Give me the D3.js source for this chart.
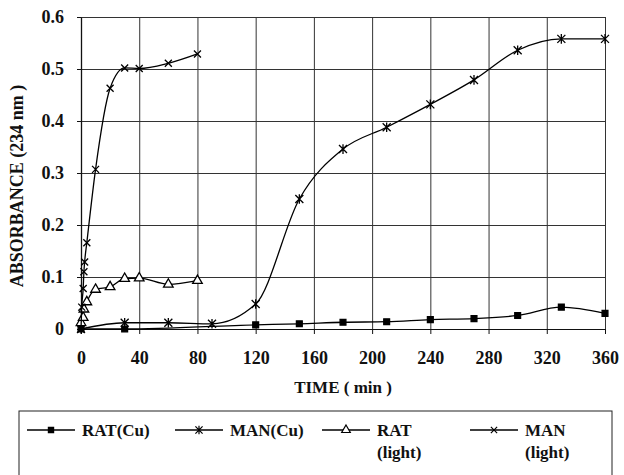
<html>
<head>
<title>Absorbance</title>
<script src="https://d3js.org/d3.v7.min.js"></script>
<style>
  body { margin: 0; background: #fff; }
</style>
</head>
<body>
<svg id="chart" width="624" height="475" font-family="Liberation Serif"></svg>
<script>
// x ticks and y ticks
var xTicks = [0, 40, 80, 120, 160, 200, 240, 280, 320, 360];
var yTicks = [0, 0.1, 0.2, 0.3, 0.4, 0.5, 0.6];
var yTickLabels = ["0", "0.1", "0.2", "0.3", "0.4", "0.5", "0.6"];

// RAT(Cu)
var ratCuTime = [0, 30, 120, 150, 180, 210, 240, 270, 300, 330, 360];
var ratCuAbs  = [0, 0, 0.008, 0.01, 0.013, 0.014, 0.018, 0.02, 0.026, 0.042, 0.03];
// MAN(Cu)
var manCuTime = [0, 30, 60, 90, 120, 150, 180, 210, 240, 270, 300, 330, 360];
var manCuAbs  = [0, 0.012, 0.012, 0.01, 0.048, 0.25, 0.346, 0.388, 0.432, 0.479, 0.536, 0.558, 0.558];
// RAT (light)
var ratLightTime = [0, 1.5, 2, 4, 10, 20, 30, 40, 60, 80];
var ratLightAbs  = [0.012, 0.022, 0.038, 0.052, 0.076, 0.081, 0.097, 0.098, 0.086, 0.093];
// MAN (light)
var manLightTime = [0, 0.5, 1.5, 2, 2.5, 4, 10, 20, 30, 40, 60, 80];
var manLightAbs  = [0, 0.042, 0.078, 0.11, 0.129, 0.166, 0.307, 0.463, 0.502, 0.501, 0.511, 0.529];

var legendNames = [["RAT(Cu)"], ["MAN(Cu)"], ["RAT", "(light)"], ["MAN", "(light)"]];

// marker shapes
var xMark = { draw: function(c, s) { var r = Math.sqrt(s) / 2;
  c.moveTo(-r, -r); c.lineTo(r, r); c.moveTo(-r, r); c.lineTo(r, -r); } };
var starMark = { draw: function(c, s) { var r = Math.sqrt(s) / 2;
  c.moveTo(-r, -r); c.lineTo(r, r); c.moveTo(-r, r); c.lineTo(r, -r);
  c.moveTo(0, -r * 1.2); c.lineTo(0, r * 1.2); } };

var series = [
  { name: legendNames[0], t: ratCuTime, v: ratCuAbs, type: d3.symbolSquare, size: 34, fill: "#000" },
  { name: legendNames[1], t: manCuTime, v: manCuAbs, type: starMark, size: 64, fill: "none" },
  { name: legendNames[2], t: ratLightTime, v: ratLightAbs, type: d3.symbolTriangle, size: 40, fill: "#fff" },
  { name: legendNames[3], t: manLightTime, v: manLightAbs, type: xMark, size: 49, fill: "none" }
];

var svg = d3.select("#chart");

var x = d3.scaleLinear().domain([0, 360]).range([81, 605]);
var y = d3.scaleLinear().domain([0, 0.6]).range([329, 17]);

// grid
svg.append("g")
  .attr("transform", "translate(0,329)")
  .call(d3.axisBottom(x).tickValues(xTicks).tickSize(-(329 - 17)).tickFormat(""))
  .call(function(g) { g.select(".domain").remove(); })
  .selectAll("line").attr("stroke", "#333");
svg.append("g")
  .attr("transform", "translate(81,0)")
  .call(d3.axisLeft(y).tickValues(yTicks).tickSize(-(605 - 81)).tickFormat(""))
  .call(function(g) { g.select(".domain").remove(); })
  .selectAll("line").attr("stroke", "#333");

// axes with labels
var xAxis = svg.append("g")
  .attr("transform", "translate(0,329)")
  .call(d3.axisBottom(x).tickValues(xTicks).tickSizeInner(5).tickSizeOuter(0).tickPadding(17));
xAxis.attr("font-family", "Liberation Serif").attr("font-size", 18).attr("font-weight", "bold");
xAxis.select(".domain").attr("stroke", "#111");
xAxis.selectAll("line").attr("stroke", "#111");
xAxis.selectAll("text").attr("fill", "#111");

var yAxis = svg.append("g")
  .attr("transform", "translate(81,0)")
  .call(d3.axisLeft(y).tickValues(yTicks).tickSizeInner(4).tickSizeOuter(0).tickPadding(13)
    .tickFormat(function(d, i) { return yTickLabels[i]; }));
yAxis.attr("font-family", "Liberation Serif").attr("font-size", 18).attr("font-weight", "bold");
yAxis.select(".domain").attr("stroke", "#111").attr("stroke-width", 1.3);
yAxis.selectAll("line").attr("stroke", "#111");
yAxis.selectAll("text").attr("fill", "#111");

// axis titles
svg.append("text")
  .attr("x", (81 + 605) / 2)
  .attr("y", 393)
  .attr("text-anchor", "middle")
  .attr("font-family", "Liberation Serif").attr("font-size", 17).attr("font-weight", "bold")
  .attr("fill", "#111")
  .text("TIME ( min )");
svg.append("text")
  .attr("transform", "translate(23,186) rotate(-90)")
  .attr("text-anchor", "middle")
  .attr("font-family", "Liberation Serif").attr("font-size", 18).attr("font-weight", "bold")
  .attr("fill", "#111")
  .text("ABSORBANCE (234 nm )");

// lines and markers
var line = d3.line()
  .x(function(d) { return x(d[0]); })
  .y(function(d) { return y(d[1]); })
  .curve(d3.curveMonotoneX);

series.forEach(function(s) {
  var pts = s.t.map(function(t, i) { return [t, s.v[i]]; });
  svg.append("path")
    .datum(pts)
    .attr("d", line)
    .attr("fill", "none")
    .attr("stroke", "#000")
    .attr("stroke-width", 1.3);
  svg.append("g").selectAll("path")
    .data(pts)
    .enter()
    .append("path")
    .attr("transform", function(d) { return "translate(" + x(d[0]) + "," + y(d[1]) + ")"; })
    .attr("d", d3.symbol().type(s.type).size(s.size))
    .attr("fill", s.fill)
    .attr("stroke", "#000")
    .attr("stroke-width", 1.3);
});

// legend
var legend = svg.append("g");
legend.append("rect")
  .attr("x", 19).attr("y", 411)
  .attr("width", 593).attr("height", 80)
  .attr("fill", "none").attr("stroke", "#222").attr("stroke-width", 1);

var itemX = [27, 175, 322, 470];
series.forEach(function(s, i) {
  var g = legend.append("g").attr("transform", "translate(" + itemX[i] + ",430)");
  g.append("line").attr("x1", 0).attr("x2", 48).attr("y1", 0).attr("y2", 0)
    .attr("stroke", "#000").attr("stroke-width", 1.4);
  g.append("path")
    .attr("transform", "translate(24,0)")
    .attr("d", d3.symbol().type(s.type).size(s.size * 0.8))
    .attr("fill", s.fill).attr("stroke", "#000").attr("stroke-width", 1.2);
  s.name.forEach(function(n, j) {
    g.append("text")
      .attr("x", 55).attr("y", j * 22)
      .attr("dy", "0.35em")
      .attr("font-family", "Liberation Serif").attr("font-size", 17).attr("font-weight", "bold")
      .attr("fill", "#111")
      .text(n);
  });
});
</script>
</body>
</html>
